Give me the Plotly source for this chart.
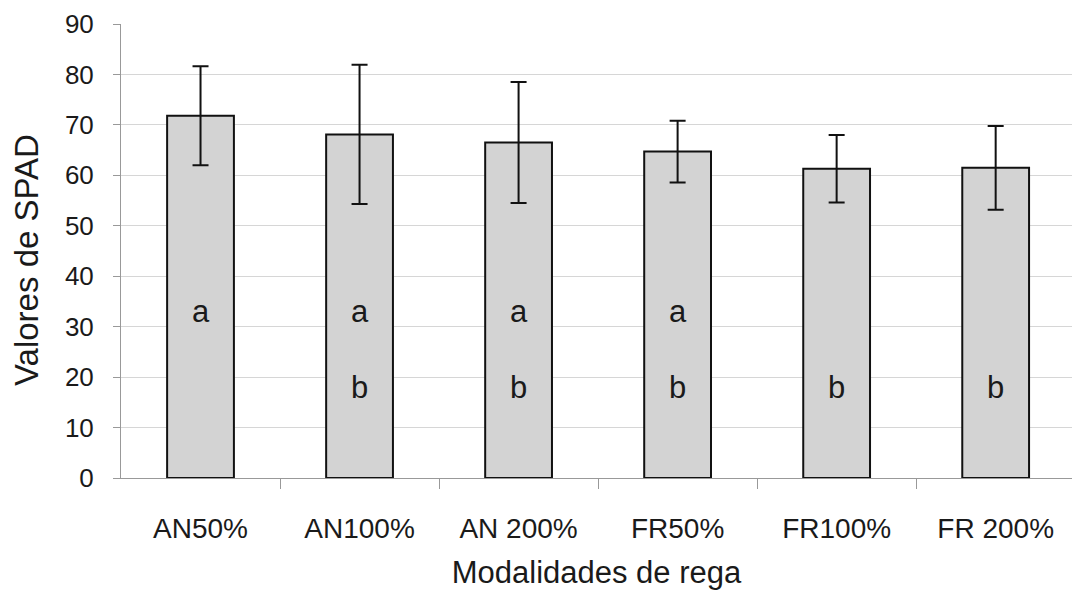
import plotly.graph_objects as go

# SPAD readings per irrigation treatment
categories = ["AN50%", "AN100%", "AN 200%", "FR50%", "FR100%", "FR 200%"]
means = [71.8, 68.1, 66.5, 64.7, 61.3, 61.5]
errors = [9.8, 13.8, 12.0, 6.1, 6.7, 8.3]
# significance groups shown inside the bars
group_a = ["a", "a", "a", "a", "", ""]
group_b = ["", "b", "b", "b", "b", "b"]
y_ticks = [0, 10, 20, 30, 40, 50, 60, 70, 80, 90]

FONT = "Liberation Sans, Arial, sans-serif"
TEXT = "#1a1a1a"
positions = list(range(len(categories)))

fig = go.Figure()
fig.add_trace(go.Bar(
    x=positions,
    y=means,
    width=0.42,
    marker=dict(color="#d3d3d3", line=dict(color="#111111", width=2)),
    error_y=dict(type="data", array=errors, visible=True,
                 color="#111111", thickness=2, width=8),
    showlegend=False,
))

# letter annotations
for xi, la, lb in zip(positions, group_a, group_b):
    if la:
        fig.add_annotation(x=xi, y=33, text=la, showarrow=False,
                           font=dict(family=FONT, size=31, color=TEXT))
    if lb:
        fig.add_annotation(x=xi, y=18, text=lb, showarrow=False,
                           font=dict(family=FONT, size=31, color=TEXT))

# y-axis title placed as a rotated annotation
fig.add_annotation(text="Valores de SPAD", textangle=-90, showarrow=False,
                   xref="paper", yref="paper", x=-0.1, y=0.48,
                   xanchor="center", yanchor="middle",
                   font=dict(family=FONT, size=33, color=TEXT))

# invisible trace on a companion axis that carries the between-category ticks
fig.add_trace(go.Scatter(x=[positions[0]], y=[0], xaxis="x2", mode="markers",
                         marker=dict(opacity=0), showlegend=False, hoverinfo="skip"))

x_range = [-0.5, 5.48]
fig.update_layout(
    width=1072, height=598,
    margin=dict(l=121, r=0, t=24, b=120),
    paper_bgcolor="white", plot_bgcolor="white",
    font=dict(family=FONT, color=TEXT),
    xaxis=dict(
        range=x_range,
        tickmode="array", tickvals=positions, ticktext=categories,
        ticks="", showgrid=False, zeroline=False,
        showline=True, linecolor="#999999", linewidth=1,
        tickfont=dict(size=28, family=FONT, color=TEXT),
        ticklabelstandoff=25,
        title=dict(text="Modalidades de rega", font=dict(size=31, family=FONT, color=TEXT), standoff=18),
    ),
    xaxis2=dict(
        range=x_range, overlaying="x", side="bottom",
        tickmode="array", tickvals=[p + 0.5 for p in positions],
        ticks="outside", ticklen=10, tickcolor="#999999", tickwidth=1,
        showticklabels=False, showgrid=False, zeroline=False, showline=False,
    ),
    yaxis=dict(
        range=[0, 90],
        tickmode="array", tickvals=y_ticks,
        ticks="outside", ticklen=7, tickcolor="#999999",
        showgrid=True, gridcolor="#d6d6d6", gridwidth=1,
        zeroline=False,
        showline=True, linecolor="#999999", linewidth=1,
        tickfont=dict(size=26, family=FONT, color=TEXT),
        ticklabelstandoff=14,
    ),
    bargap=0.58,
)

fig.write_html("out.html")
